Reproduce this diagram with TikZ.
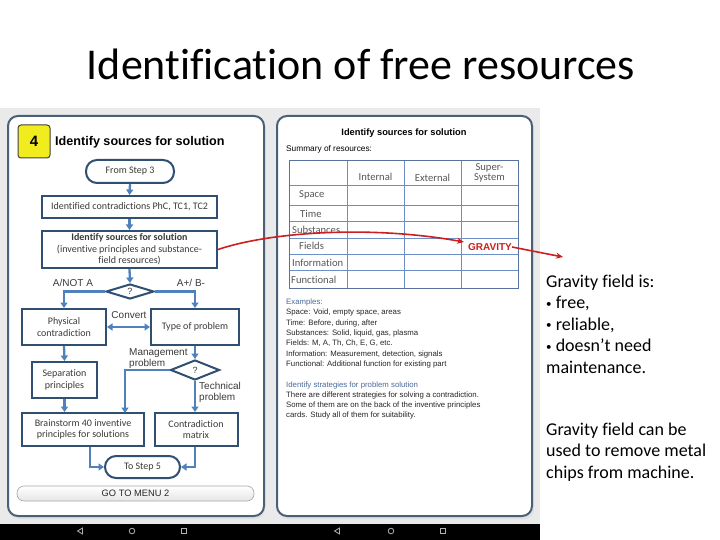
\documentclass[tikz,border=0pt]{standalone}
\usepackage{fontspec}
\setmainfont{Carlito}[Ligatures=NoCommon]
\newfontfamily\arialf{Liberation Sans}
\usetikzlibrary{shapes.geometric,arrows.meta,calc}
\definecolor{cardc}{HTML}{4A6078}
\definecolor{boxc}{HTML}{2F4F73}
\definecolor{arrc}{HTML}{4F81BD}
\definecolor{bgc}{HTML}{EAEAEA}
\definecolor{txtc}{HTML}{3A3A3A}
\definecolor{gridc}{HTML}{6D8FC7}
\definecolor{redc}{HTML}{CC1F1F}
\definecolor{exbl}{HTML}{4A6A9A}
\definecolor{yel}{HTML}{F0EC1E}
\definecolor{navc}{HTML}{B0B0B0}
\newcommand{\smbul}{{\fontsize{11}{11}\selectfont\raisebox{1.5pt}{•}}}
\tikzset{
  card/.style={draw=cardc, line width=2, rounded corners=10, fill=white},
  fbox/.style={draw=boxc, line width=2, fill=white, align=center, text=txtc,
    inner sep=0, font=\fontsize{10}{11.5}\selectfont},
  stadium/.style={fbox, rounded corners=11},
  dia/.style={diamond, draw=boxc, line width=2, fill=white, inner sep=0, text=txtc,
    font=\fontsize{9}{10}\selectfont\arialf},
  arr/.style={draw=arrc, line width=2.3, -{Triangle[length=5.5,width=7]}},
  darr/.style={draw=arrc, line width=2.3, {Triangle[length=5.5,width=7]}-{Triangle[length=5.5,width=7]}},
  lbl/.style={inner sep=0, text=txtc, font=\fontsize{10}{11}\selectfont\arialf, align=left},
  cell/.style={inner sep=0, text=txtc!85, font=\fontsize{10.6}{11}\selectfont},
  ex/.style={inner sep=0, anchor=base west, text=black!85, font=\fontsize{7.8}{9}\selectfont\arialf},
  rt/.style={inner sep=0, anchor=base west, font=\fontsize{18}{21}\selectfont},
  redarr/.style={draw=redc, line width=1.6, -{Stealth[length=7,width=6]}},
  nav/.style={draw=navc, line width=0.8}
}
\begin{document}
\begin{tikzpicture}[x=1pt,y=-1pt]
\useasboundingbox (0,0) rectangle (720,540);
\fill[white] (0,0) rectangle (720,540);

% title
\node[inner sep=0, anchor=base, font=\fontsize{44}{50}\selectfont] (title) at (361,80) {Identification of free resources};

% screenshot background
\fill[bgc] (0,108) rectangle (540,524);
\fill[black] (0,524) rectangle (540,540);

% cards with faint shadow
\fill[black!12, rounded corners=10] (9,118) rectangle (265,519);
\fill[black!12, rounded corners=10] (278,118) rectangle (534,519);
\draw[card] (8,116) rectangle (264,516);
\draw[card] (277,116) rectangle (532,516);

% ---------- left card ----------
\node[draw=black!75, line width=1, fill=yel, rounded corners=3, minimum width=32, minimum height=33,
  inner sep=0, font=\fontsize{15}{16}\selectfont\arialf\bfseries] (four) at (34,141.5) {4};
\node[inner sep=0, anchor=west, font=\fontsize{12.6}{14}\selectfont\arialf\bfseries] (head) at (55,142) {Identify sources for solution};

\node[stadium, minimum width=88, minimum height=23] (start) at (130,171.5) {From Step 3};
\node[fbox, minimum width=175, minimum height=22] (ident) at (129.5,207) {Identified contradictions PhC, TC1, TC2};
\node[fbox, minimum width=175, minimum height=37] (src) at (129.5,249.5)
  {\textbf{Identify sources for solution}\\(inventive principles and substance-\\field resources)};
\node[dia, minimum width=48, minimum height=15] (d1) at (130,291.5) {?};
\node[fbox, minimum width=84, minimum height=36] (phys) at (64,327) {Physical\\contradiction};
\node[fbox, minimum width=88, minimum height=36] (type) at (195,327) {Type of problem};
\node[fbox, minimum width=65, minimum height=36] (sep) at (64.5,380) {Separation\\principles};
\node[dia, minimum width=49, minimum height=20] (d2) at (195,370) {?};
\node[fbox, minimum width=122, minimum height=33] (brain) at (83,429.5) {Brainstorm 40 inventive\\principles for solutions};
\node[fbox, minimum width=83, minimum height=33] (matrix) at (196,429.5) {Contradiction\\matrix};
\node[stadium, minimum width=75, minimum height=22] (end) at (142.5,467) {To Step 5};

\coordinate (bt) at (125,413);

\draw[arr] (start.south) -- (ident.north);
\draw[arr] (ident.south) -- (src.north);
\draw[arr] (src.south) -- (d1.north);
\draw[arr] (d1.west) -| (phys.north);
\draw[arr] (d1.east) -| (type.north);
\draw[darr] (phys.east) -- (type.west);
\draw[arr] (phys.south) -- (sep.north);
\draw[arr] (type.south) -- (d2.north);
\draw[arr] (d2.west) -| (bt);
\draw[arr] (d2.south) -- (d2.south |- matrix.north);
\draw[arr] (sep.south) -- (sep.south |- brain.north);
\draw[arr] ($(brain.south)+(7,0)$) |- (end.west);
\draw[arr] (d2.south |- matrix.south) |- (end.east);

\node[lbl] (l1) at (73,283) {A/NOT A};
\node[lbl] (l2) at (191,283) {A+/ B-};
\node[lbl] (l3) at (129,315) {Convert};
\node[lbl, anchor=west] (l4) at (129,358.5) {Management\\problem};
\node[lbl, anchor=west] (l5) at (199,392.5) {Technical\\problem};

% menu button
\node[draw=black!35, line width=0.6, rounded corners=7, top color=white, bottom color=black!10,
  minimum width=237, minimum height=15, inner sep=0, font=\fontsize{9.3}{10}\selectfont\arialf, text=black!85]
  (menu) at (135.5,493.5) {GO TO MENU 2};

% ---------- right card ----------
\node[inner sep=0, font=\fontsize{9.3}{10}\selectfont\arialf\bfseries] (rhead) at (404,133) {Identify sources for solution};
\node[inner sep=0, anchor=base west, font=\fontsize{8.3}{9}\selectfont\arialf] (summ) at (286,152) {Summary of resources:};

% table grid
\foreach \yy in {185,205,221.7,238.3,254.3,270.7}
  \draw[gridc, line width=0.8] (289,\yy) -- (518,\yy);
\foreach \xx in {347,404,461}
  \draw[gridc, line width=0.8] (\xx,161) -- (\xx,288);
\draw[gridc!80!black, line width=1] (289,161) rectangle (518,288);

\node[cell] (cint) at (375.5,177) {Internal};
\node[cell] (cext) at (432.5,177.5) {External};
\node[cell, align=center, font=\fontsize{10.6}{10.5}\selectfont] (csup) at (489.5,173) {Super-\\System};
\node[cell, anchor=west] (rsp) at (299,195) {Space};
\node[cell, anchor=west] (rti) at (300,213.5) {Time};
\node[cell, anchor=west] (rsu) at (292,229.5) {Substances};
\node[cell, anchor=west] (rfi) at (299,246) {Fields};
\node[cell, anchor=west] (rin) at (292,262.5) {Information};
\node[cell, anchor=west] (rfu) at (291,279.5) {Functional};
\node[inner sep=0, text=redc, font=\fontsize{10}{11}\selectfont\arialf\bfseries] (grav) at (490,247) {GRAVITY};

% examples
\node[ex, text=exbl] (e0) at (286,304.5) {Examples:};
\node[ex] (e1) at (286,314.8) {Space: Void, empty space, areas};
\node[ex] (e2) at (286,325.1) {Time: Before, during, after};
\node[ex] (e3) at (286,335.4) {Substances: Solid, liquid, gas, plasma};
\node[ex] (e4) at (286,345.7) {Fields: M, A, Th, Ch, E, G, etc.};
\node[ex] (e5) at (286,356.0) {Information: Measurement, detection, signals};
\node[ex] (e6) at (286,366.3) {Functional: Additional function for existing part};
\node[ex, text=exbl] (s0) at (286,387) {Identify strategies for problem solution};
\node[ex] (s1) at (286,397.3) {There are different strategies for solving a contradiction.};
\node[ex] (s2) at (286,407.6) {Some of them are on the back of the inventive principles};
\node[ex] (s3) at (286,417.9) {cards. Study all of them for suitability.};

% nav icons
\foreach \xx in {80,337} {
  \draw[nav] (\xx+2.5,528) -- (\xx-2.5,531) -- (\xx+2.5,534) -- cycle;
}
\foreach \xx in {132,391} {
  \draw[nav] (\xx,531) circle (2.8);
}
\foreach \xx in {184,443} {
  \draw[nav] (\xx-2.5,528.5) rectangle (\xx+2.5,533.5);
}

% red arrows
\coordinate (tip1) at (464,242);
\coordinate (tip2) at (563,257);
\draw[redarr] (src.east) .. controls (270,232) and (370,225) .. (tip1);
\draw[redarr] (grav.east) -- (tip2);

% right text
\node[rt] (g1) at (546,287) {Gravity field is:};
\node[rt] (g2) at (546,308.5) {\smbul\ free,};
\node[rt] (g3) at (546,330) {\smbul\ reliable,};
\node[rt] (g4) at (546,351.5) {\smbul\ doesn’t need};
\node[rt] (g5) at (546,373) {maintenance.};
\node[rt] (g6) at (546,435) {Gravity field can be};
\node[rt] (g7) at (546,456.5) {used to remove metal};
\node[rt] (g8) at (546,478) {chips from machine.};
\end{tikzpicture}
\end{document}
